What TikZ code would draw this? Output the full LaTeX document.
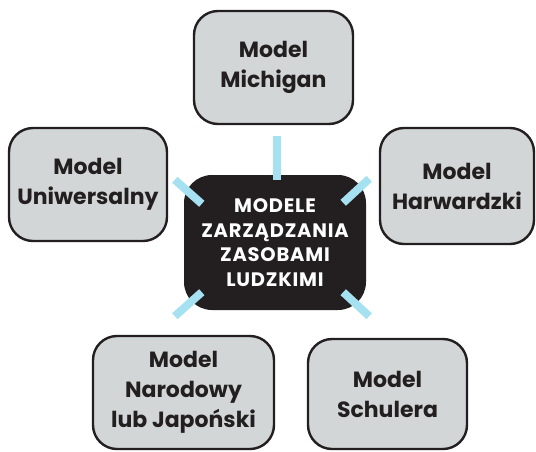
\documentclass[tikz,border=0pt]{standalone}
\usepackage{fontspec}
\setmainfont{Poppins}
\usetikzlibrary{positioning,calc}
\definecolor{boxgray}{HTML}{D3D6D6}
\definecolor{ink}{HTML}{231F20}
\definecolor{stubblue}{HTML}{A6E1F1}

\begin{document}
\begin{tikzpicture}[
    x=1pt, y=-1pt,
    model/.style={rectangle, draw=ink, fill=boxgray, line width=2.4pt, rounded corners=24pt, align=center, text=ink, inner sep=0pt, font=\fontsize{22}{30}\selectfont\bfseries},
    core/.style={rectangle, fill=ink, rounded corners=28pt, align=center, text=white, inner sep=0pt, minimum width=182pt, minimum height=135pt, font=\fontsize{19.5}{24.5}\selectfont\bfseries\addfontfeatures{LetterSpace=4}},
    spoke/.style={draw=stubblue, line width=8pt},
]
\useasboundingbox (0,0) rectangle (536,451);

\node[core] (C) at (275,242.5) {MODELE\\ZARZĄDZANIA\\ZASOBAMI\\LUDZKIMI};
\node[model, minimum width=159pt, minimum height=113pt] (M) at (273.5,67.5) {Model\\Michigan};
\node[model, minimum width=154pt, minimum height=116pt] (H) at (457,186) {Model\\Harwardzki};
\node[model, minimum width=158pt, minimum height=113pt] (U) at (88,184.5) {Model\\Uniwersalny};
\node[model, minimum width=181pt, minimum height=113pt] (N) at (183.5,392.5) {Model\\Narodowy\\lub Japoński};
\node[model, minimum width=159pt, minimum height=110pt] (S) at (387.5,394) {Model\\Schulera};

% spokes round the core
\coordinate (m1) at ([shift={(3.5,11)}]M.south);
\coordinate (m2) at ([shift={(2,5)}]C.north);
\coordinate (u1) at ([shift={(-9,5)}]C.north west);
\coordinate (u2) at ([shift={(18,29)}]C.north west);
\coordinate (h1) at ([shift={(3,4)}]C.north east);
\coordinate (h2) at ([shift={(-23,28)}]C.north east);
\coordinate (n1) at ([shift={(-9,6)}]C.south west);
\coordinate (n2) at ([shift={(18,-18)}]C.south west);
\coordinate (s1) at ([shift={(3,6)}]C.south east);
\coordinate (s2) at ([shift={(-23,-18)}]C.south east);

\draw[spoke] (m1) -- (m2);
\draw[spoke] (u1) -- (u2);
\draw[spoke] (h1) -- (h2);
\draw[spoke] (n1) -- (n2);
\draw[spoke] (s1) -- (s2);

\end{tikzpicture}
\end{document}
